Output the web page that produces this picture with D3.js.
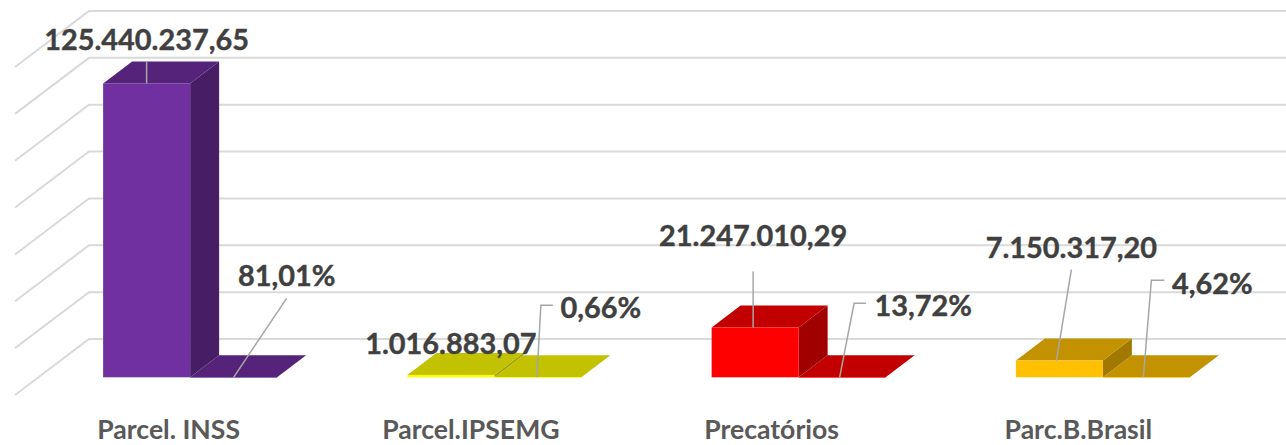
<!DOCTYPE html>
<html>
<head>
<meta charset="utf-8">
<script src="https://cdn.jsdelivr.net/npm/d3@7"></script>
<style>
    html, body { margin: 0; padding: 0; background: #fff; overflow: hidden; }
    text { font-family: Lato, "Open Sans", sans-serif; font-weight: 700; }
</style>
</head>
<body>
<div id="chart"></div>
<script>
const categories = ['Parcel. INSS', 'Parcel.IPSEMG', 'Precatórios', 'Parc.B.Brasil'];
const amounts = [125440237.65, 1016883.07, 21247010.29, 7150317.20];
const shares = [81.01, 0.66, 13.72, 4.62];
const barColors = ['#7030a0', '#ffff00', '#ff0000', '#ffc000'];
const gridTicks = [0, 20e6, 40e6, 60e6, 80e6, 100e6, 120e6, 140e6];

// where the data labels sit, relative to the point their leader starts from
// (ox moves that point away from the middle of the bar)
const amountLabels = [
    { ox: 0, dx: 0, dy: -44, leader: [[0, -22]] },
    { ox: 0, dx: 0, dy: -31, leader: [] },
    { ox: -2, dx: 0, dy: -92, leader: [[0, -56]] },
    { ox: -3, dx: 15, dy: -113, leader: [[15, -91]] }
];
const shareLabels = [
    { ox: 0, dx: 53, dy: -102, leader: [[53, -79]] },
    { ox: -1, dx: 64, dy: -70, leader: [[4, -72], [16, -72]] },
    { ox: -2.5, dx: 83.5, dy: -72, leader: [[14.5, -74], [26.5, -74]] },
    { ox: -3, dx: 69, dy: -94, leader: [[8, -97], [21, -97]] }
];
const axisNudge = [1.5, -0.5, -4, -1.5];

const width = 1286, height = 445;
const baseY = 377.3;         // front edge of the bars
const barDepth = { x: 29, y: -22 };
const wallDepth = { x: 74, y: -56 };
const wallLeft = 15;
const floorFrontY = 395;     // front edge of the floor, value 0

const svg = d3.select('#chart').append('svg')
    .attr('width', width)
    .attr('height', height)
    .style('display', 'block');

const x = d3.scaleBand().domain(categories).range([38, 1255]).paddingInner(0).paddingOuter(0);
const groupWidth = 174;
const inner = d3.scaleBand().domain(['amount', 'share']).range([-groupWidth / 2, groupWidth / 2]);
const y = d3.scaleLinear().domain([0, 140e6]).range([0, 328]);

const brazil = d3.formatLocale({ decimal: ',', thousands: '.', grouping: [3], currency: ['R$', ''] });
const formatAmount = brazil.format(',.2f');
const formatShare = v => brazil.format('.2f')(v) + '%';

// Grid: back wall lines and the diagonals on the side wall
const grid = svg.append('g');
gridTicks.forEach(t => {
    const yFront = floorFrontY - y(t);
    grid.append('polyline')
        .attr('points', [
            [wallLeft, yFront],
            [wallLeft + wallDepth.x, yFront + wallDepth.y],
            [width, yFront + wallDepth.y]
        ].join(' '))
        .attr('fill', 'none')
        .attr('stroke', '#d9d9d9')
        .attr('stroke-width', 2);
});

const shade = (color, k) => {
    const c = d3.rgb(color);
    return d3.rgb(c.r * k, c.g * k, c.b * k).formatHex();
};

// One 3D bar: side, top, then the front face
function drawBar(g, left, w, value, color) {
    const h = y(value);
    const top = baseY - h;
    const d = barDepth;
    g.append('polygon')
        .attr('points', [[left + w, top], [left + w + d.x, top + d.y], [left + w + d.x, baseY + d.y], [left + w, baseY]].join(' '))
        .attr('fill', shade(color, 0.63));
    g.append('polygon')
        .attr('points', [[left, top], [left + d.x, top + d.y], [left + w + d.x, top + d.y], [left + w, top]].join(' '))
        .attr('fill', shade(color, 0.76));
    g.append('rect')
        .attr('x', left)
        .attr('y', top)
        .attr('width', w)
        .attr('height', Math.max(h, 0.6))
        .attr('fill', color);
}

const center = i => x(categories[i]) + x.bandwidth() / 2;

const bars = svg.append('g');
categories.forEach((c, i) => {
    const g = bars.append('g');
    drawBar(g, center(i) + inner('share'), inner.bandwidth(), shares[i] / 100, barColors[i]);
    drawBar(g, center(i) + inner('amount'), inner.bandwidth(), amounts[i], barColors[i]);
});

// Leaders and data labels
const labels = svg.append('g');
function addLabel(text, barMiddle, ay, spec) {
    const ax = barMiddle + spec.ox;
    if (spec.leader.length) {
        const pts = [[ax, ay]].concat(spec.leader.map(p => [ax + p[0], ay + p[1]]));
        labels.append('polyline')
            .attr('points', pts.join(' '))
            .attr('fill', 'none')
            .attr('stroke', '#a6a6a6')
            .attr('stroke-width', 1.5);
    }
    labels.append('text')
        .attr('x', ax + spec.dx)
        .attr('y', ay + spec.dy)
        .attr('dy', '0.36em')
        .attr('text-anchor', 'middle')
        .attr('font-size', 28.9)
        .attr('fill', '#404040')
        .attr('stroke', '#404040')
        .attr('stroke-width', 0.4)
        .text(text);
}

categories.forEach((c, i) => {
    const ax = center(i) + inner('amount') + inner.bandwidth() / 2;
    addLabel(formatAmount(amounts[i]), ax, baseY - y(amounts[i]), amountLabels[i]);
    const sx = center(i) + inner('share') + inner.bandwidth() / 2;
    addLabel(formatShare(shares[i]), sx, baseY - y(shares[i] / 100), shareLabels[i]);
});

// Category axis
const axis = svg.append('g')
    .attr('transform', 'translate(-23,429.5)')
    .call(d3.axisBottom(x).tickSize(0).tickPadding(0));
axis.select('.domain').remove();
axis.selectAll('text')
    .attr('x', (d, i) => axisNudge[i])
    .attr('y', 0)
    .attr('dy', '0.36em')
    .attr('font-size', 26.6)
    .attr('font-family', 'Lato, "Open Sans", sans-serif')
    .attr('fill', '#595959');
</script>
</body>
</html>
